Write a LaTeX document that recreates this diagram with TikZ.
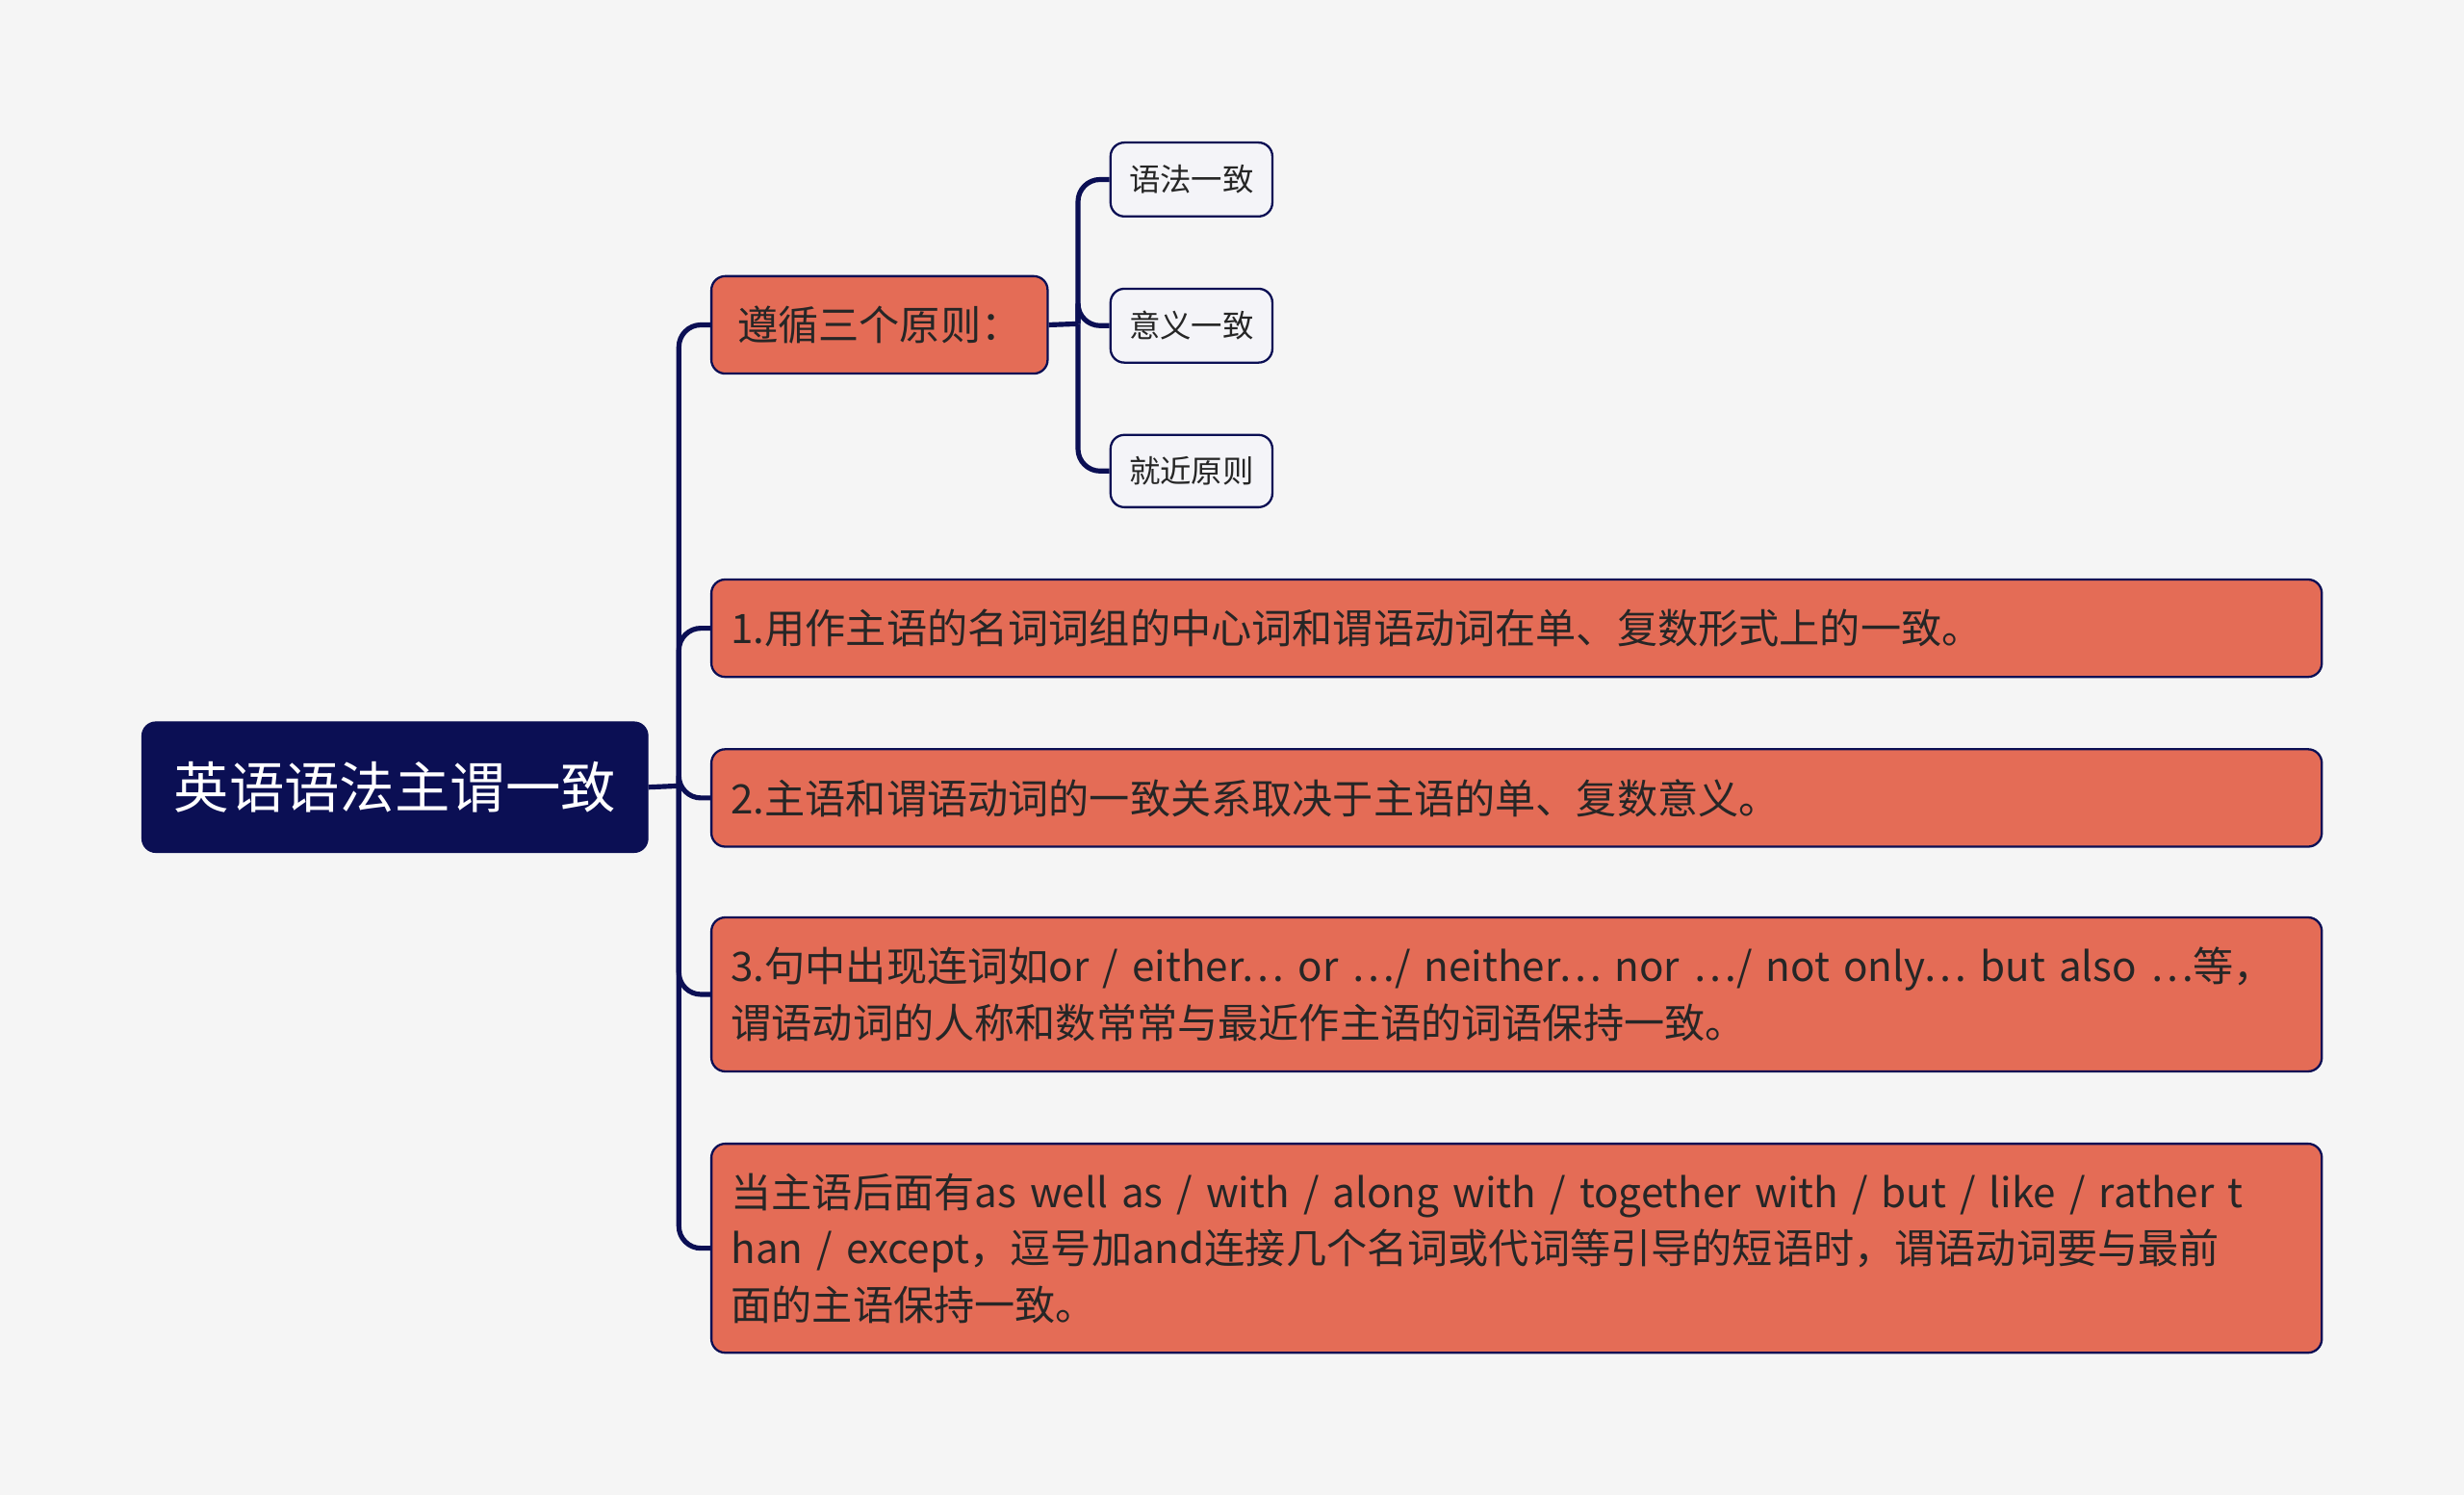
\documentclass[tikz,border=0pt]{standalone}
\usepackage{fontspec}
\setmainfont{Noto Sans CJK SC}
\begin{document}
\begin{tikzpicture}[x=0.02cm,y=-0.02cm,
  conn/.style={draw=navy,line width=1.8pt,rounded corners=8pt},
  orange/.style={draw=navy,fill=orng,line width=0.8pt,rounded corners=5pt,anchor=north west,inner xsep=0.25cm,inner ysep=0pt,align=left,font=\fontsize{14.7}{20.4}\selectfont,text=black!85},
  leaf/.style={draw=navy,fill=leafc,line width=0.8pt,rounded corners=5pt,anchor=north west,inner sep=0pt,font=\fontsize{11.3}{14}\selectfont,text=black!85}]
\definecolor{navy}{HTML}{0B0F54}
\definecolor{orng}{HTML}{E46C56}
\definecolor{leafc}{HTML}{F4F4F8}
\fill[white!96!black] (0,0) rectangle (1568,951);
\useasboundingbox (0,0) rectangle (1568,951);
\node[draw=navy,fill=navy,rounded corners=5pt,anchor=north west,minimum width=6.44cm,minimum height=1.66cm,inner sep=0pt,text=white,font=\fontsize{20}{24}\selectfont] (root) at (90,459) {英语语法主谓一致};
\node[orange,minimum width=4.28cm,minimum height=1.24cm] (a) at (452,175) {遵循三个原则：};
\node[leaf,minimum width=2.06cm,minimum height=0.94cm] (l1) at (706,90) {语法一致};
\node[leaf,minimum width=2.06cm,minimum height=0.94cm] (l2) at (706,183) {意义一致};
\node[leaf,minimum width=2.06cm,minimum height=0.92cm] (l3) at (706,276) {就近原则};
\node[orange,minimum width=20.5cm,minimum height=1.24cm,text width=20cm] (n1) at (452,368) {1.用作主语的名词词组的中心词和谓语动词在单、复数形式上的一致。};
\node[orange,minimum width=20.5cm,minimum height=1.24cm,text width=20cm] (n2) at (452,476) {2.主语和谓语动词的一致关系取决于主语的单、复数意义。};
\node[orange,minimum width=20.5cm,minimum height=1.96cm,text width=20cm] (n3) at (452,583) {3.句中出现连词如or / either… or …/ neither… nor …/ not only… but also …等，\\谓语动词的人称和数常常与最近作主语的词语保持一致。};
\node[orange,minimum width=20.5cm,minimum height=2.66cm,text width=20cm] (n4) at (452,727) {当主语后面有as well as / with / along with / together with / but / like / rather t\\han / except，逗号加and连接几个名词或代词等引导的短语时，谓语动词要与最前\\面的主语保持一致。};
\coordinate (t) at (432,500);
\draw[conn] (root.east) -- (t);
\foreach \n in {a,n1,n2,n3,n4}{\draw[conn] (t) |- (\n.west);}
\coordinate (u) at (686,206);
\draw[conn] (a.east) -- (u);
\foreach \n in {l1,l2,l3}{\draw[conn] (u) |- (\n.west);}
\end{tikzpicture}
\end{document}
